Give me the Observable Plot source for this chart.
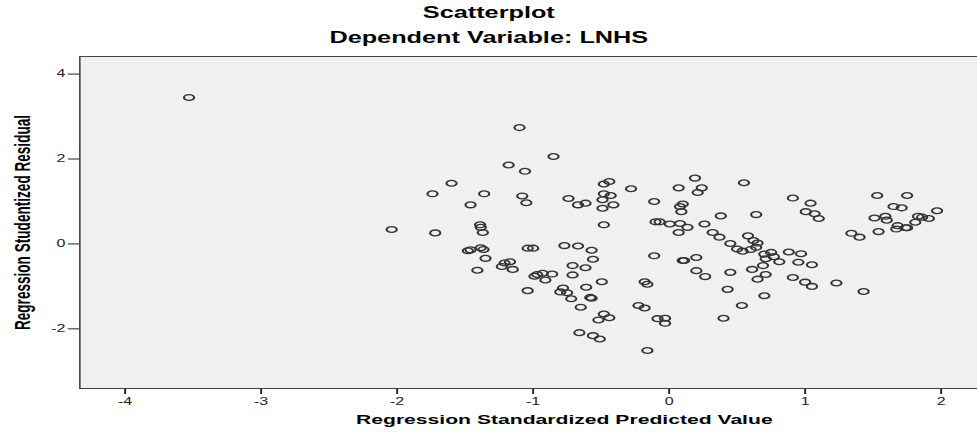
<!DOCTYPE html>
<html>
<head>
<meta charset="utf-8">
<script src="https://cdn.jsdelivr.net/npm/d3@7"></script>
<script src="https://cdn.jsdelivr.net/npm/@observablehq/plot@0.6"></script>
<style>
html, body { margin: 0; padding: 0; background: #fff; overflow: hidden; }
#wrap { width: 611px; transform: scaleX(1.6); transform-origin: 0 0; font-family: "Liberation Sans", Arial, sans-serif; }
#head { position: relative; height: 50px; }
.t { position: absolute; left: 0; width: 100%; text-align: center; font-weight: bold; font-size: 15.8px; line-height: 16px; color: #000; white-space: nowrap; }
</style>
</head>
<body>
<div id="wrap">
  <div id="head">
    <div class="t" id="title" style="top:5px"></div>
    <div class="t" id="subtitle" style="top:30px"></div>
  </div>
  <div id="chart"></div>
</div>
<script>
const titleText = "Scatterplot";
const subtitleText = "Dependent Variable: LNHS";
const xLabel = "Regression Standardized Predicted Value";
const yLabel = "Regression Studentized Residual";
const xTicks = [-4, -3, -2, -1, 0, 1, 2];
const yTicks = [-2, 0, 2, 4];

const predicted = [
  -3.53, -1.10, -0.85, -1.18, -1.06, -1.60, -1.74, -1.36, -1.46, -1.08,
  -1.05, -0.74, -0.67, -2.04, -1.72, -1.39, -1.385, -1.37, -1.48, -1.46,
  -1.385, -1.365, -1.04, -1.00, -0.77, -0.67, -1.35, -1.21, -1.17, -1.23,
  -1.15, -1.41, -0.99, -0.97, -0.93, -0.91, -0.86, -0.71, -0.71, -1.04,
  -0.78, -0.80, -0.75, -0.72, -0.65, -0.66, 0.19, 0.55, -0.44, -0.48,
  -0.28, 0.07, 0.24, 0.21, -0.615, -0.48, -0.43, -0.49, -0.41, -0.49,
  -0.11, 0.10, 0.08, 0.09, 0.38, 0.64, -0.48, -0.10, -0.07, 0.005,
  0.08, 0.135, 0.07, 0.26, 0.32, 0.37, 0.45, 0.50, 0.54, 0.58,
  0.62, 0.65, 0.64, 0.60, 0.70, 0.75, 0.77, 0.71, -0.57, -0.56,
  -0.11, 0.10, 0.11, 0.20, -0.615, 0.20, 0.265, 0.45, 0.61, 0.69,
  0.71, 0.65, 0.43, 0.70, 0.535, 0.40, -0.61, -0.495, -0.57, -0.58,
  -0.48, -0.52, -0.44, -0.56, -0.51, -0.18, -0.16, -0.225, -0.18, -0.085,
  -0.03, -0.03, -0.16, 0.91, 1.04, 1.005, 1.07, 1.10, 1.53, 1.75,
  1.65, 1.71, 1.51, 1.59, 1.60, 1.97, 1.83, 1.86, 1.91, 1.81,
  1.68, 1.67, 1.74, 1.75, 1.54, 1.34, 1.40, 0.88, 0.97, 0.81,
  0.95, 1.05, 0.91, 1.00, 1.05, 1.23, 1.43
];

const residual = [
  3.45, 2.74, 2.06, 1.86, 1.71, 1.43, 1.18, 1.18, 0.92, 1.13,
  0.97, 1.07, 0.92, 0.34, 0.26, 0.45, 0.39, 0.27, -0.16, -0.14,
  -0.09, -0.13, -0.10, -0.10, -0.04, -0.05, -0.34, -0.45, -0.42, -0.53,
  -0.60, -0.62, -0.76, -0.72, -0.69, -0.85, -0.71, -0.51, -0.73, -1.10,
  -1.04, -1.13, -1.15, -1.29, -1.49, -2.09, 1.55, 1.44, 1.47, 1.41,
  1.30, 1.32, 1.32, 1.21, 0.96, 1.18, 1.14, 1.04, 0.92, 0.84,
  1.00, 0.94, 0.88, 0.76, 0.66, 0.69, 0.45, 0.52, 0.52, 0.47,
  0.48, 0.39, 0.27, 0.47, 0.27, 0.16, 0.01, -0.12, -0.17, 0.19,
  0.08, 0.02, -0.08, -0.13, -0.24, -0.20, -0.30, -0.35, -0.15, -0.36,
  -0.28, -0.39, -0.39, -0.32, -0.56, -0.63, -0.77, -0.67, -0.60, -0.51,
  -0.72, -0.83, -1.07, -1.22, -1.45, -1.75, -1.02, -0.89, -1.28, -1.26,
  -1.65, -1.79, -1.74, -2.16, -2.24, -0.89, -0.95, -1.45, -1.51, -1.76,
  -1.75, -1.87, -2.51, 1.08, 0.96, 0.76, 0.71, 0.60, 1.14, 1.14,
  0.88, 0.85, 0.61, 0.65, 0.56, 0.78, 0.65, 0.63, 0.60, 0.51,
  0.43, 0.35, 0.38, 0.38, 0.29, 0.25, 0.16, -0.19, -0.23, -0.42,
  -0.43, -0.49, -0.79, -0.90, -1.00, -0.92, -1.12
];

const data = predicted.map((x, i) => ({x, y: residual[i]}));

document.getElementById("title").textContent = titleText;
document.getElementById("subtitle").textContent = subtitleText;

// flattened open marker (SPSS-style)
const ellipse = {
  draw(ctx) {
    const rx = 3.2, ry = 2.9, k = 0.5523;
    ctx.moveTo(rx, 0);
    ctx.bezierCurveTo(rx, ry * k, rx * k, ry, 0, ry);
    ctx.bezierCurveTo(-rx * k, ry, -rx, ry * k, -rx, 0);
    ctx.bezierCurveTo(-rx, -ry * k, -rx * k, -ry, 0, -ry);
    ctx.bezierCurveTo(rx * k, -ry, rx, -ry * k, rx, 0);
    ctx.closePath();
  }
};

const fmt = d => String(d);

const chart = Plot.plot({
  width: 611,
  height: 382,
  marginLeft: 49.4,
  marginRight: 0,
  marginTop: 6,
  marginBottom: 44,
  style: {fontFamily: "'Liberation Sans', Arial, sans-serif", background: "transparent", color: "#222", overflow: "visible"},
  x: {domain: [-4.333, 2.274]},
  y: {domain: [-3.405, 4.414]},
  marks: [
    Plot.frame({fill: "#f0f0f0", stroke: "none"}),
    Plot.axisX({ticks: xTicks, tickFormat: fmt, tickSize: 6, tickPadding: 3, fontSize: 10, strokeWidth: 1.2, label: null}),
    Plot.axisY({ticks: yTicks, tickFormat: fmt, tickSize: 7, tickPadding: 2, fontSize: 10, label: null}),
    Plot.dot(data, {x: "x", y: "y", symbol: ellipse, fill: "none", stroke: "#333", strokeWidth: 1.3}),
    Plot.frame({stroke: "#444", strokeWidth: 1}),
    Plot.text([xLabel], {text: d => d, frameAnchor: "bottom", dy: 35, dx: 22, fontWeight: "bold", fontSize: 13.2, fill: "#000"}),
    Plot.text([yLabel], {text: d => d, frameAnchor: "left", textAnchor: "middle", rotate: -90, dx: -35.7, fontWeight: "bold", fontSize: 13.6, fill: "#000"})
  ]
});
document.getElementById("chart").appendChild(chart);
</script>
</body>
</html>
